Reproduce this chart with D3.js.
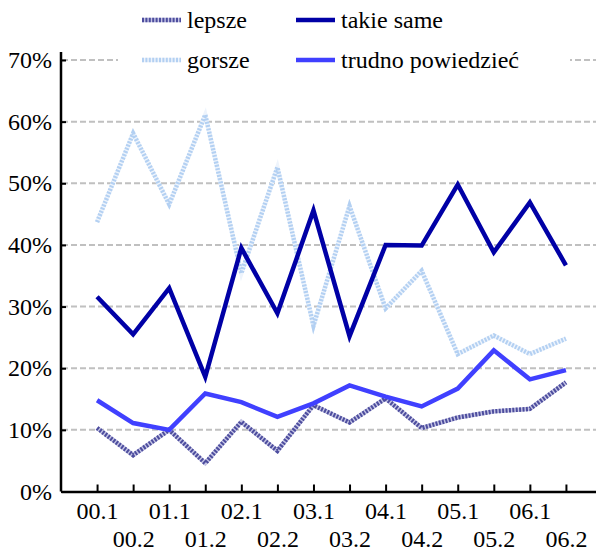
<!DOCTYPE html>
<html>
<head>
<meta charset="utf-8">
<script src="https://cdn.jsdelivr.net/npm/d3@7"></script>
<style>
  html, body { margin: 0; padding: 0; background: #fff; }
  svg { display: block; }
  svg text { font-family: "Liberation Serif", "Times New Roman", serif; }
</style>
</head>
<body>
<div id="chart"></div>
<script>
var periods = ['00.1', '00.2', '01.1', '01.2', '02.1', '02.2', '03.1', '03.2', '04.1', '04.2', '05.1', '05.2', '06.1', '06.2'];
var lepsze = [10.3, 5.9, 10.0, 4.6, 11.3, 6.6, 14.0, 11.2, 15.1, 10.3, 12.0, 13.0, 13.4, 17.7];
var gorsze = [43.7, 58.1, 46.6, 61.1, 35.4, 52.6, 26.9, 46.3, 29.7, 35.8, 22.3, 25.3, 22.3, 24.8];
var takieSame = [31.6, 25.5, 33.0, 18.6, 39.5, 28.9, 45.6, 25.2, 40.0, 39.9, 49.8, 38.8, 46.9, 36.7];
var trudno = [14.8, 11.1, 10.0, 15.9, 14.5, 12.1, 14.3, 17.2, 15.4, 13.8, 16.7, 22.9, 18.2, 19.7];
var yTicks = [0, 10, 20, 30, 40, 50, 60, 70];

var width = 596, height = 550;
var font = 'Liberation Serif, Times New Roman, serif';

var series = [
    { name: 'lepsze', values: lepsze, color: '#4d4d9e', under: '#c4c4e4', dash: '2,1.4' },
    { name: 'gorsze', values: gorsze, color: '#b3d0f2', under: '#eef4fc', dash: '2,1.4' },
    { name: 'takie same', values: takieSame, color: '#0000a6' },
    { name: 'trudno powiedzieć', values: trudno, color: '#4040ff' }
];

var x = d3.scalePoint().domain(periods).range([61, 602]).padding(1);
var y = d3.scaleLinear().domain([0, 70]).range([491.5, 60]);

var svg = d3.select('#chart').append('svg')
    .attr('width', width)
    .attr('height', height)
    .attr('font-family', font);

// grid
svg.append('g')
    .selectAll('line')
    .data(yTicks.filter(function (d) { return d > 0; }))
    .join('line')
    .attr('x1', 62).attr('x2', width)
    .attr('y1', function (d) { return y(d); })
    .attr('y2', function (d) { return y(d); })
    .attr('stroke', '#c0c0c0')
    .attr('stroke-width', 2)
    .attr('stroke-dasharray', '6,3');

var line = d3.line()
    .x(function (d, i) { return x(periods[i]); })
    .y(function (d) { return y(d); });

function drawLine(g, s, pathFn) {
    if (s.dash) {
        g.append('path')
            .attr('d', pathFn)
            .attr('fill', 'none')
            .attr('stroke', s.under)
            .attr('stroke-width', 4.5)
            .attr('stroke-linejoin', 'miter');
    }
    g.append('path')
        .attr('d', pathFn)
        .attr('fill', 'none')
        .attr('stroke', s.color)
        .attr('stroke-width', 4.5)
        .attr('stroke-linejoin', 'miter')
        .attr('stroke-dasharray', s.dash || null);
}

var lines = svg.append('g');
series.forEach(function (s) {
    drawLine(lines, s, line(s.values));
});

// axes
var yAxis = svg.append('g')
    .attr('transform', 'translate(61,0)')
    .call(d3.axisLeft(y).tickValues(yTicks).tickSizeInner(-5).tickSizeOuter(0)
        .tickPadding(9).tickFormat(function (d) { return d + '%'; }));
yAxis.attr('font-family', font).attr('font-size', 24);
// axis line runs a little above the top tick
yAxis.select('.domain')
    .attr('d', 'M0,' + (y(70) - 8) + 'V' + y(0))
    .attr('stroke', '#000').attr('stroke-width', 2.5);
yAxis.selectAll('.tick line').attr('stroke', '#000').attr('stroke-width', 2);
yAxis.selectAll('text').attr('fill', '#000');

var xAxis = svg.append('g')
    .attr('transform', 'translate(0,' + y(0) + ')')
    .call(d3.axisBottom(x).tickSizeInner(-7).tickSizeOuter(0).tickPadding(0));
xAxis.attr('font-family', font).attr('font-size', 24);
xAxis.select('.domain').attr('stroke', '#000').attr('stroke-width', 2.5);
xAxis.selectAll('.tick line').attr('stroke', '#000').attr('stroke-width', 2);
xAxis.selectAll('text')
    .attr('fill', '#000')
    .attr('dy', null)
    .attr('y', function (d, i) { return i % 2 === 0 ? 27 : 55; });

// legend
var legend = svg.append('g').attr('font-family', font).attr('font-size', 24);
legend.append('rect')
    .attr('x', 118).attr('y', 0)
    .attr('width', 452).attr('height', 80)
    .attr('fill', '#fff');

var legendPos = [
    { sx: 142, ty: 20 },
    { sx: 142, ty: 60 },
    { sx: 296, ty: 20 },
    { sx: 296, ty: 60 }
];
series.forEach(function (s, i) {
    var p = legendPos[i];
    drawLine(legend, s, 'M' + p.sx + ',' + p.ty + 'H' + (p.sx + 39));
    legend.append('text')
        .attr('x', p.sx + 45)
        .attr('y', p.ty)
        .attr('dy', '0.33em')
        .attr('fill', '#000')
        .text(s.name);
});
</script>
</body>
</html>
